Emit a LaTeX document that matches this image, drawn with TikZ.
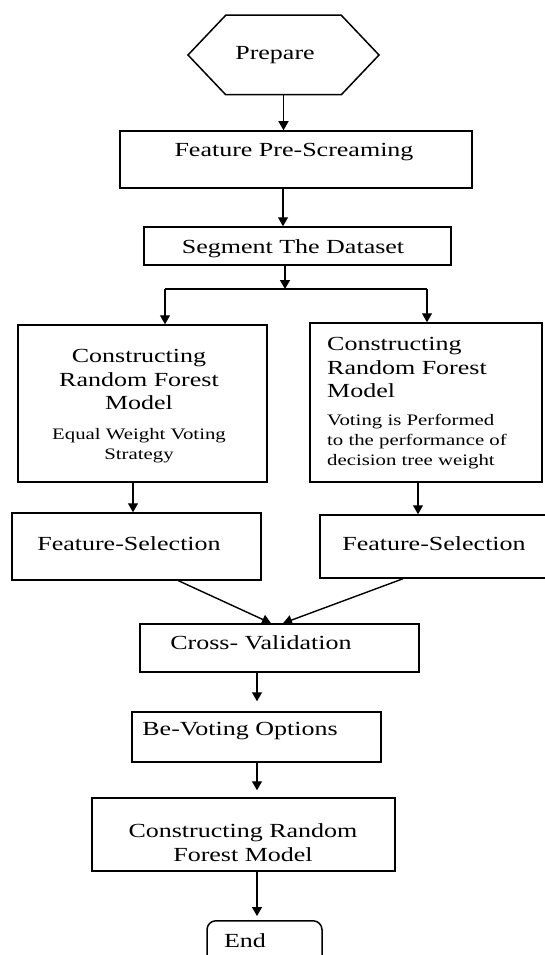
\documentclass[tikz,border=0pt]{standalone}
\usepackage{fontspec}
\setmainfont{Liberation Serif}[FakeStretch=1.3]
\usetikzlibrary{arrows.meta,shapes.symbols,calc}

\begin{document}
\begin{tikzpicture}[x=1pt,y=-1pt]
  \tikzstyle{box}=[draw=black, line width=1.5pt, inner sep=0pt, rectangle]
  \tikzstyle{txt}=[inner sep=0pt, font=\fontsize{20}{23.5}\selectfont]
  \tikzstyle{note}=[inner sep=0pt, font=\fontsize{16}{20}\selectfont]
  \tikzstyle{line}=[draw=black, line width=1.4pt]
  \tikzstyle{flow}=[line, -{Triangle[length=9pt,width=10pt]}]

  \useasboundingbox (0,0) rectangle (545,955);
  \clip (0,0) rectangle (545,955);

  % columns the arrows run along
  \coordinate (topspine) at (283,0);
  \coordinate (botspine) at (257,0);
  \coordinate (lcol) at (133,0);
  \coordinate (rcol) at (418,0);
  \coordinate (lsplit) at (165,289);
  \coordinate (msplit) at (285,289);
  \coordinate (rsplit) at (427,289);

  % boxes
  \node [box, signal, signal to=west and east, signal pointer angle=93,
         minimum width=191pt, minimum height=79.5pt] (prep) at (283.5,55) {};
  \node [box, minimum width=352pt, minimum height=57pt] (fps) at (296,159.5) {};
  \node [box, minimum width=307pt, minimum height=38pt] (sd) at (297.5,246) {};
  \node [box, minimum width=249pt, minimum height=157pt] (crfl) at (142.5,403.5) {};
  \node [box, minimum width=232pt, minimum height=159pt] (crfr) at (426,402.5) {};
  \node [box, minimum width=249pt, minimum height=67pt] (lfs) at (136.5,546.5) {};
  \node [box, minimum width=240pt, minimum height=63pt] (rfs) at (440,546.5) {};
  \node [box, minimum width=279pt, minimum height=48pt] (cv) at (279.5,648) {};
  \node [box, minimum width=249pt, minimum height=50pt] (bv) at (256.5,737) {};
  \node [box, minimum width=303pt, minimum height=73pt] (crfm) at (243.5,834.5) {};
  \node [box, rounded corners=9pt, anchor=north,
         minimum width=115pt, minimum height=80pt] (endbox) at (264.5,920) {};

  % texts
  \node [txt] (preptxt) at (275,55) {Prepare};
  \node [txt] (fpstxt) at (294,152) {Feature Pre-Screaming};
  \node [txt] (sdtxt) at (293,248.5) {Segment The Dataset};
  \node [txt, align=center] (crfltxt) at (139,379.5) {Constructing\\Random Forest\\Model};
  \node [note, align=center] (crflnote) at (139,446) {Equal Weight Voting\\Strategy};
  \node [txt, align=left, anchor=west] (crfrtxt) at (327,367.5) {Constructing\\Random Forest\\Model};
  \node [note, align=left, anchor=west] (crfrnote) at (327,442)
        {Voting is Performed\\to the performance of\\decision tree weight};
  \node [txt] (lfstxt) at (129,544) {Feature-Selection};
  \node [txt] (rfstxt) at (434,544) {Feature-Selection};
  \node [txt] (cvtxt) at (261,643) {Cross- Validation};
  \node [txt] (bvtxt) at (240,731) {Be-Voting Options};
  \node [txt, align=center] (crfmtxt) at (243,842.5) {Constructing Random\\Forest Model};
  \node [txt] (endtxt) at (245,941) {End};

  % arrows
  \draw [flow] (prep.south) -- (prep.south |- fps.north);
  \draw [flow] (fps.south -| topspine) -- (sd.north -| topspine);
  \draw [flow] (sd.south -| msplit) -- (msplit);
  \draw [line] (lsplit) -- (rsplit);
  \draw [flow] (lsplit) -- (lsplit |- crfl.north);
  \draw [flow] (rsplit) -- (rsplit |- crfr.north);
  \draw [flow] (crfl.south -| lcol) -- (lfs.north -| lcol);
  \draw [flow] (crfr.south -| rcol) -- (rfs.north -| rcol);
  \draw [flow] ([xshift=42pt]lfs.south) -- ([xshift=-8.5pt]cv.north);
  \draw [flow] ([xshift=-37pt]rfs.south) -- ([xshift=3.5pt]cv.north);
  \draw [flow, shorten >=10pt] (cv.south -| botspine) -- (bv.north -| botspine);
  \draw [flow, shorten >=7pt] (bv.south -| botspine) -- (crfm.north -| botspine);
  \draw [flow, shorten >=4pt] (crfm.south -| botspine) -- (endbox.north -| botspine);
\end{tikzpicture}
\end{document}
